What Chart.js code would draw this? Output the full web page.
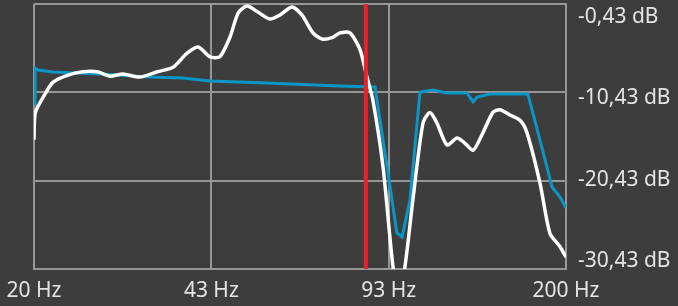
<!DOCTYPE html>
<html>
<head>
<meta charset="utf-8">
<script src="https://cdn.jsdelivr.net/npm/chart.js@4/dist/chart.umd.min.js"></script>
<style>
body { margin: 0; background: #3d3d3d; }
#wrap { width: 678px; height: 306px; }
</style>
</head>
<body>
<div id="wrap"><canvas id="chart" width="678" height="306"></canvas></div>
<script>
// measured response (white)
var measuredFreq = [20.0, 20.1, 20.8, 21.7, 23.1, 24.7, 26.3, 27.8, 29.4, 31.6, 34.1, 36.5, 38.8, 40.7, 42.8, 44.7, 46.7, 48.4, 50.3, 52.7, 55.5, 58.0, 61.1, 63.8, 66.9, 69.6, 72.9, 75.2, 78.5, 82.0, 84.5, 86.7, 90.6, 94.6, 97.1, 99.6, 103.1, 107.7, 111.0, 114.4, 119.5, 124.8, 129.2, 133.8, 139.6, 145.8, 150.3, 156.9, 163.9, 168.9, 178.7, 186.6, 194.9, 200];
var measuredDb = [-15.8, -12.8, -11.0, -9.3, -8.5, -8.1, -8.1, -8.6, -8.35, -8.7, -8.1, -7.6, -6.0, -5.3, -6.4, -6.4, -4.2, -1.45, -0.66, -1.34, -2.13, -1.68, -0.77, -1.68, -3.7, -4.4, -4.2, -3.7, -3.7, -5.6, -8.7, -11.3, -18.9, -30.2, -33.4, -30.2, -22.6, -13.9, -12.7, -13.9, -16.4, -15.6, -16.2, -17.0, -15.0, -12.7, -12.4, -13.0, -13.6, -15.0, -20.7, -26.4, -27.9, -29.1];

// target / corrected curve (blue)
var targetFreq = [20.09, 20.1, 20.35, 21.7, 26.6, 33.0, 38.1, 42.8, 54.8, 75.2, 87.5, 92.2, 96.2, 98.4, 101.8, 106.3, 112.5, 119.5, 130.3, 133.8, 136.1, 143.9, 169.6, 178.7, 188.3, 194.9, 200];
var targetDb = [-11.86, -7.68, -7.9, -8.13, -8.35, -8.69, -8.81, -9.15, -9.37, -9.71, -9.83, -18.88, -26.36, -26.81, -22.62, -10.39, -10.17, -10.51, -10.51, -11.52, -10.96, -10.62, -10.62, -15.83, -21.15, -22.28, -23.52];

var markerFreq = 84.1;

var xTickValues = [20, 43.09, 92.83, 200];
var xTickLabels = ['20 Hz', '43 Hz', '93 Hz', '200 Hz'];
var yTickValues = [-0.43, -10.43, -20.43, -30.43];
var yTickLabels = ['-0,43 dB', '-10,43 dB', '-20,43 dB', '-30,43 dB'];

var gridColor = '#979797';
var textColor = '#e4e4e4';
var labelFont = { family: 'Noto Sans', size: 21 };

function toPoints(xs, ys) {
    var pts = [];
    for (var i = 0; i < xs.length; i++)
        pts.push({ x: xs[i], y: ys[i] });
    return pts;
}

var chart = new Chart(document.getElementById('chart'), {
    type: 'scatter',
    data: {
        datasets: [
            {
                data: [{ x: markerFreq, y: yTickValues[0] }, { x: markerFreq, y: yTickValues[3] }],
                showLine: true, borderColor: '#e8212b', borderWidth: 4, pointRadius: 0
            },
            {
                data: toPoints(measuredFreq, measuredDb),
                showLine: true, borderColor: '#ffffff', borderWidth: 3.5, pointRadius: 0, tension: 0.25
            },
            {
                data: toPoints(targetFreq, targetDb),
                showLine: true, borderColor: '#0a96c4', borderWidth: 3, pointRadius: 0, tension: 0
            }
        ]
    },
    options: {
        responsive: false,
        animation: false,
        layout: { padding: { left: 34, top: 4, right: 0, bottom: 0 } },
        plugins: { legend: { display: false }, tooltip: { enabled: false } },
        scales: {
            x: {
                type: 'logarithmic', min: 20, max: 200, position: 'bottom',
                grid: { color: gridColor, lineWidth: 2, drawTicks: false },
                border: { color: gridColor, width: 2 },
                ticks: {
                    color: textColor, font: labelFont, padding: 9, autoSkip: false, maxRotation: 0,
                    callback: function (v, i) { return xTickLabels[i]; }
                },
                afterBuildTicks: function (s) { s.ticks = xTickValues.map(function (v) { return { value: v }; }); },
                afterFit: function (s) { s.height = 37; s.paddingLeft = 0; s.paddingRight = 0; }
            },
            y: {
                position: 'right', min: -30.43, max: -0.43,
                grid: { color: gridColor, lineWidth: 2, drawTicks: false },
                border: { color: gridColor, width: 2 },
                ticks: { display: false },
                afterBuildTicks: function (s) { s.ticks = yTickValues.map(function (v) { return { value: v }; }); },
                afterFit: function (s) { s.width = 0; s.paddingTop = 0; s.paddingBottom = 0; }
            },
            yLabels: {
                position: 'right', min: -31.41, max: 1.17,
                grid: { display: false, drawTicks: false },
                border: { display: false },
                ticks: {
                    color: textColor, font: labelFont, padding: 12,
                    callback: function (v, i) { return yTickLabels[i]; }
                },
                afterBuildTicks: function (s) { s.ticks = yTickValues.map(function (v) { return { value: v }; }); },
                afterFit: function (s) { s.width = 112; s.paddingTop = 0; s.paddingBottom = 0; }
            }
        }
    }
});
</script>
</body>
</html>
